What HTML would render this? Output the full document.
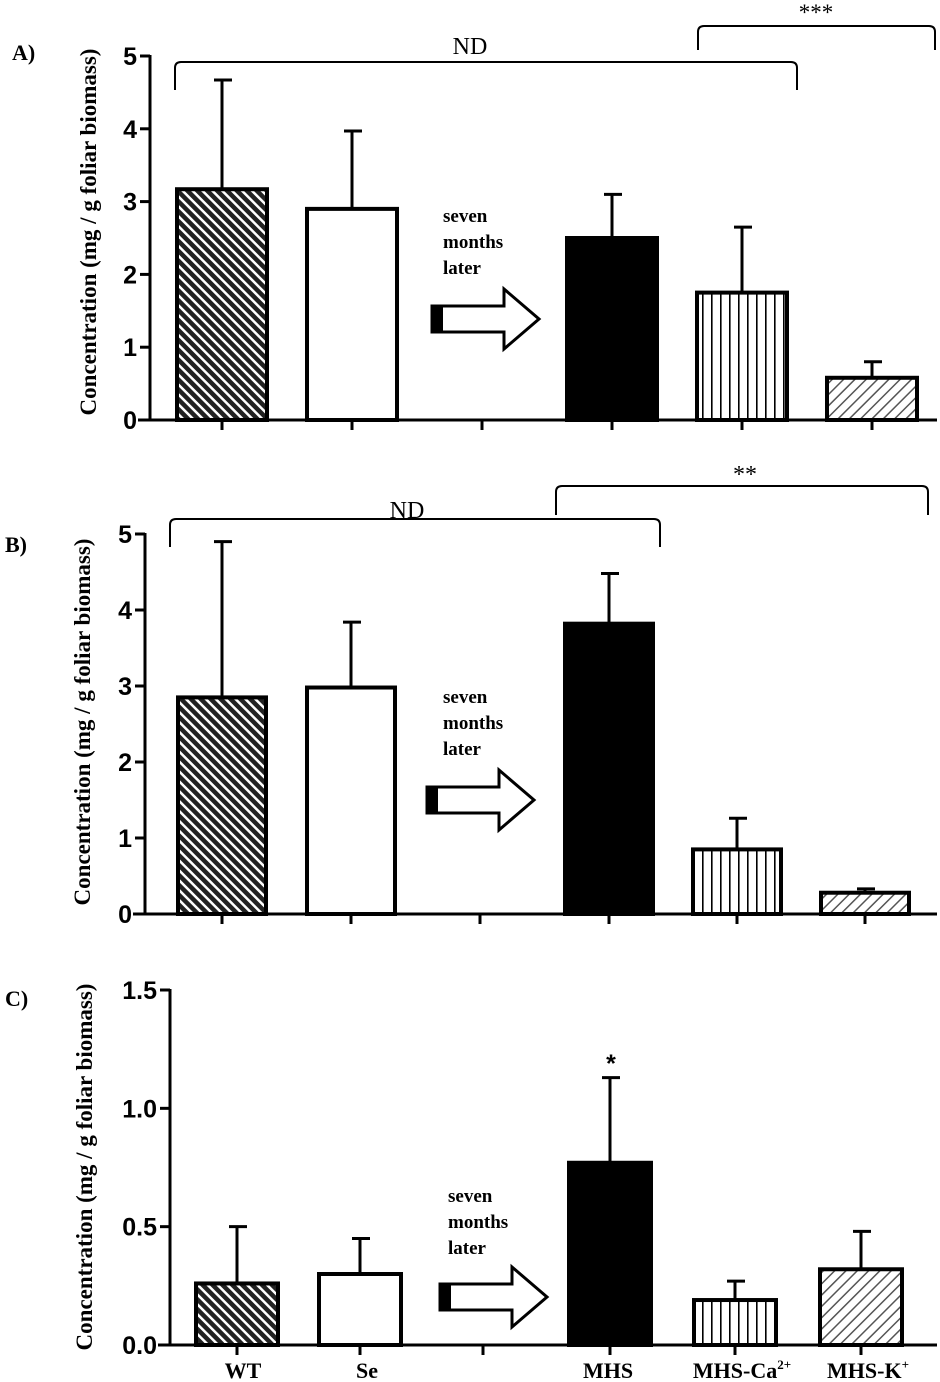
<!DOCTYPE html>
<html><head><meta charset="utf-8"><style>
body{margin:0;background:#fff;}
svg{display:block;}
.tk{font-family:"Liberation Sans",sans-serif;font-weight:bold;font-size:25px;}
.sr{font-family:"Liberation Serif",serif;font-weight:bold;}
</style></head><body>
<svg id="chart" width="940" height="1382" viewBox="0 0 940 1382" xmlns="http://www.w3.org/2000/svg">
<defs>
<pattern id="pWT" patternUnits="userSpaceOnUse" width="7" height="7" patternTransform="rotate(45)"><rect width="7" height="7" fill="#fff"/><rect width="7" height="4.5" fill="#222"/></pattern>
<pattern id="pCa" patternUnits="userSpaceOnUse" width="9" height="9"><rect width="9" height="9" fill="#fff"/><rect x="0" width="1.6" height="9" fill="#000"/></pattern>
<pattern id="pK" patternUnits="userSpaceOnUse" width="8" height="8" patternTransform="rotate(-45)"><rect width="8" height="8" fill="#fff"/><rect width="8" height="1.5" fill="#555"/></pattern>
</defs>
<g id="root"></g>
</svg>
<script>
const categories = ["WT","Se","","MHS","MHS-Ca2+","MHS-K+"];
const valuesA = [3.17, 2.9, null, 2.5, 1.75, 0.58];
const errorsA = [4.67, 3.97, null, 3.1, 2.65, 0.8];
const valuesB = [2.85, 2.98, null, 3.82, 0.85, 0.28];
const errorsB = [4.9, 3.84, null, 4.48, 1.26, 0.33];
const valuesC = [0.26, 0.3, null, 0.77, 0.19, 0.32];
const errorsC = [0.5, 0.45, null, 1.13, 0.27, 0.48];
const ticksAB = [0,1,2,3,4,5];
const ticksC = [0,0.5,1.0,1.5];
const tickLabelsC = ["0.0","0.5","1.0","1.5"];

const NS="http://www.w3.org/2000/svg";
const root=document.getElementById('root');
function mk(tag,attrs,parent,text){const e=document.createElementNS(NS,tag);for(const k in attrs)e.setAttribute(k,attrs[k]);if(text!==undefined)e.textContent=text;(parent||root).appendChild(e);return e;}
const fills=["url(#pWT)","#fff",null,"#000","url(#pCa)","url(#pK)"];

function panel(cfg){
  const g=mk('g',{});
  
  
  const y=v=>cfg.y0-(v-0)/(cfg.max)*(cfg.y0-cfg.yTop);
  cfg.vals.forEach((v,i)=>{
    if(v===null)return;
    const cx=cfg.xs[i], w=cfg.bw;
    const eLine=mk('line',{x1:cx,x2:cx,y1:y(v),y2:y(cfg.errs[i]),stroke:'#000','stroke-width':3},g);
    
    
    mk('line',{x1:cx-8,x2:cx+10,y1:y(cfg.errs[i]),y2:y(cfg.errs[i]),stroke:'#000','stroke-width':3},g);
    const r=mk('rect',{x:cx-w/2,y:y(v),width:w,height:cfg.y0-y(v),fill:fills[i],stroke:'#000','stroke-width':4},g);
    
    
  });
  const ya=mk('line',{x1:cfg.ax,x2:cfg.ax,y1:cfg.yTop-1,y2:cfg.y0+1.5,stroke:'#000','stroke-width':3},g);
  
  
  const xa=mk('line',{x1:cfg.ax-12,x2:cfg.xEnd,y1:cfg.y0,y2:cfg.y0,stroke:'#000','stroke-width':3},g);
  
  
  cfg.xs.forEach(cx=>mk('line',{x1:cx,x2:cx,y1:cfg.y0,y2:cfg.y0+10,stroke:'#000','stroke-width':3},g));
  cfg.ticks.forEach((t,i)=>{
    mk('line',{x1:cfg.ax-10,x2:cfg.ax,y1:y(t),y2:y(t),stroke:'#000','stroke-width':3},g);
    const tl=mk('text',{x:cfg.ax-13,y:y(t)+9,'text-anchor':'end','class':'tk'},g,cfg.tickLabels[i]);
    
    
  });
  const yt=mk('text',{x:0,y:0,'class':'sr','font-size':23,'text-anchor':'middle',transform:`translate(${cfg.titleX},${cfg.titleY}) rotate(-90)`},g,'Concentration (mg / g foliar biomass)');
  
  
  const pl=mk('text',{x:cfg.lab[0],y:cfg.lab[1],'class':'sr','font-size':22},g,cfg.id+')');
  
  
  ['seven','months','later'].forEach((s,i)=>mk('text',{x:cfg.note[0],y:cfg.note[1]+i*26,'class':'sr','font-size':19},g,s));
  const a=cfg.arrow, cy=a[1];
  const ar=mk('path',{d:`M${a[0]} ${cy-13}H${a[0]+72}V${cy-30}L${a[0]+107} ${cy}L${a[0]+72} ${cy+30}V${cy+13}H${a[0]}Z`,fill:'#fff',stroke:'#000','stroke-width':3},g);
  
  
  mk('rect',{x:a[0],y:cy-13,width:11,height:26,fill:'#000'},g);
  return {g,y};
}
function bracket(g,x1,x2,yy,drop,label,lx,ly,size){
  const b=mk('path',{d:`M${x1} ${yy+drop}V${yy+6}Q${x1} ${yy} ${x1+6} ${yy}H${x2-6}Q${x2} ${yy} ${x2} ${yy+6}V${yy+drop}`,fill:'none',stroke:'#000','stroke-width':2},g);
  
  
  const t=mk('text',{x:lx,y:ly,'text-anchor':'middle','font-family':'"Liberation Serif",serif','font-size':size},g,label);
  
  
}
const A=panel({id:'A',vals:valuesA,errs:errorsA,max:5,y0:420,yTop:56,ax:150,xEnd:937,xs:[222,352,482,612,742,872],bw:90,ticks:ticksAB,tickLabels:ticksAB.map(String),titleX:96,titleY:232,lab:[12,60],note:[443,222],arrow:[432,319]});
bracket(A.g,175,797,62,28,'ND',470,54,24);
bracket(A.g,698,935,26,24,'***',816,20,23);
const B=panel({id:'B',vals:valuesB,errs:errorsB,max:5,y0:914,yTop:534,ax:145,xEnd:937,xs:[222,351,480,609,737,865],bw:88,ticks:ticksAB,tickLabels:ticksAB.map(String),titleX:90,titleY:722,lab:[5,552],note:[443,703],arrow:[427,800]});
bracket(B.g,170,660,519,28,'ND',407,518,24);
bracket(B.g,556,928,486,29,'**',745,482,24);
const C=panel({id:'C',vals:valuesC,errs:errorsC,max:1.5,y0:1345,yTop:990,ax:170,xEnd:937,xs:[237,360,483,610,735,861],bw:82,ticks:ticksC,tickLabels:tickLabelsC,titleX:92,titleY:1167,lab:[5,1006],note:[448,1202],arrow:[440,1297]});
const st=mk('text',{x:611,y:1072,'text-anchor':'middle','class':'tk','font-size':34},C.g,'*');


const xl=[[243,'WT'],[367,'Se'],[608,'MHS'],[742,'MHS-Ca'],[868,'MHS-K']];
xl.forEach((p,i)=>{
  const t=mk('text',{x:p[0],y:1378,'text-anchor':'middle','class':'sr','font-size':22},C.g);
  
  
  t.appendChild(document.createTextNode(p[1]));
  if(i===3){mk('tspan',{'font-size':13,dy:-9},t,'2+');}
  if(i===4){mk('tspan',{'font-size':13,dy:-9},t,'+');}
});
</script>
</body></html>
